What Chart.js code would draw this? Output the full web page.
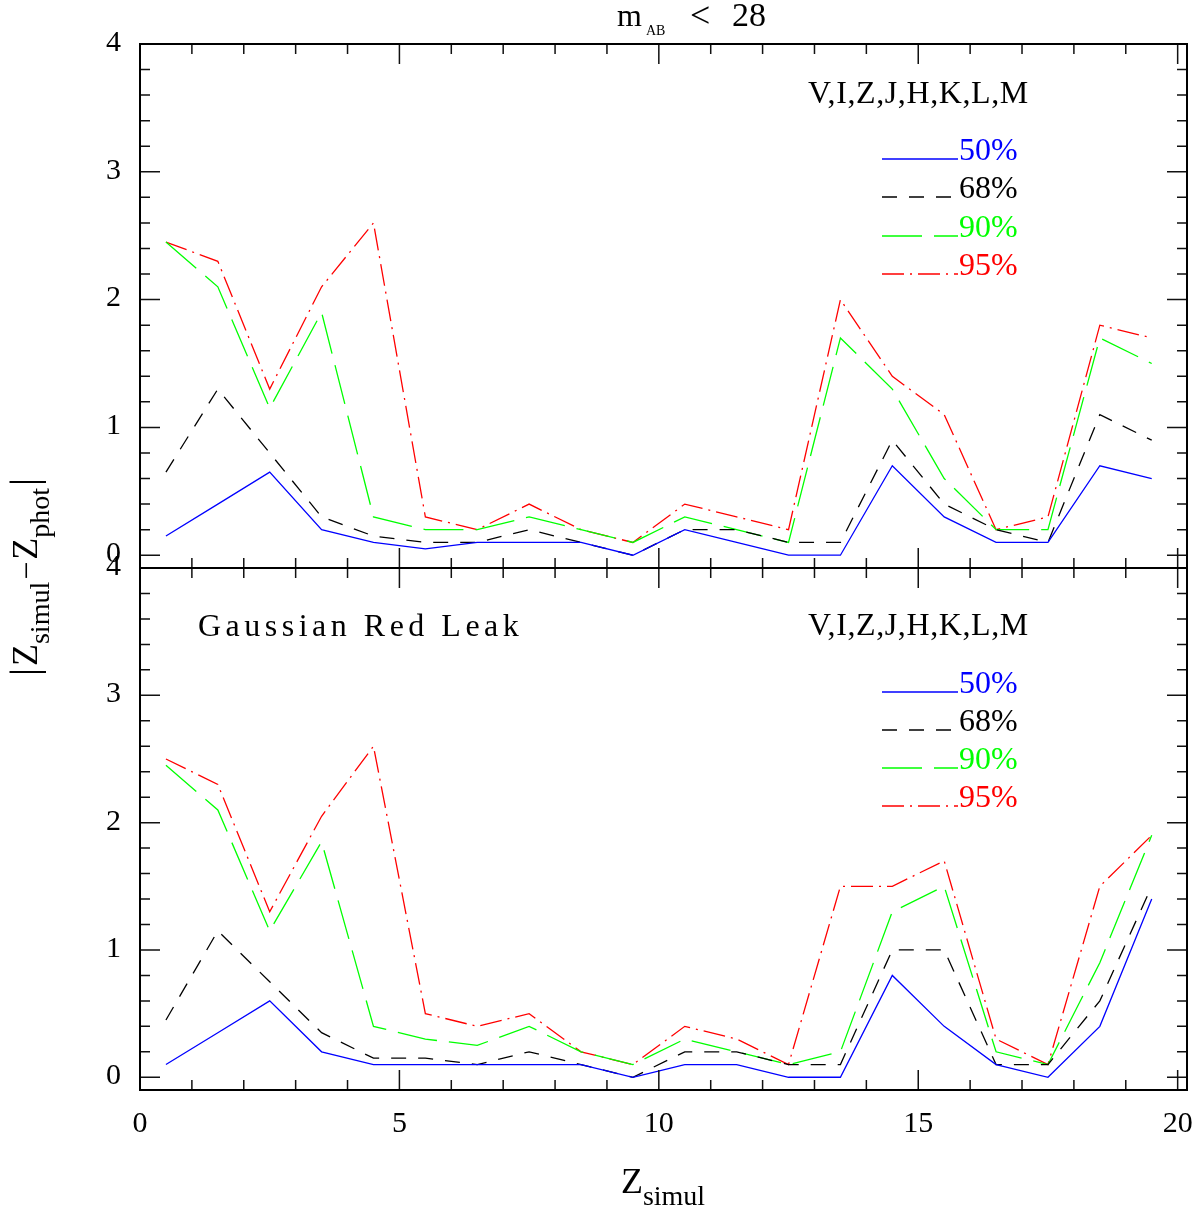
<!DOCTYPE html>
<html>
<head>
<meta charset="utf-8">
<script src="https://cdn.jsdelivr.net/npm/chart.js@4/dist/chart.umd.min.js"></script>
<style>
  html, body { margin: 0; background: #fff; }
  #wrap { position: relative; width: 1204px; height: 1214px; }
  #wrap canvas { position: absolute; left: 0; top: 0; }
</style>
</head>
<body>
<div id="wrap">
  <canvas id="topPanel" width="1204" height="1214"></canvas>
  <canvas id="botPanel" width="1204" height="1214"></canvas>
</div>
<script>
// x positions (bin centres of Z_simul)
const zSimul = [0.5, 1.5, 2.5, 3.5, 4.5, 5.5, 6.5, 7.5, 8.5, 9.5,
                10.5, 11.5, 12.5, 13.5, 14.5, 15.5, 16.5, 17.5, 18.5, 19.5];

// upper panel : m_AB < 28
const top50 = [0.15, 0.4, 0.65, 0.2, 0.1, 0.05, 0.1, 0.1, 0.1, 0.0, 0.2, 0.1, 0.0, 0.0, 0.7, 0.3, 0.1, 0.1, 0.7, 0.6];
const top68 = [0.65, 1.3, 0.8, 0.3, 0.15, 0.1, 0.1, 0.2, 0.1, 0.0, 0.2, 0.2, 0.1, 0.1, 0.9, 0.4, 0.2, 0.1, 1.1, 0.9];
const top90 = [2.45, 2.1, 1.15, 1.9, 0.3, 0.2, 0.2, 0.3, 0.2, 0.1, 0.3, 0.2, 0.1, 1.7, 1.3, 0.6, 0.2, 0.2, 1.7, 1.5];
const top95 = [2.45, 2.3, 1.3, 2.1, 2.6, 0.3, 0.2, 0.4, 0.2, 0.1, 0.4, 0.3, 0.2, 2.0, 1.4, 1.1, 0.2, 0.3, 1.8, 1.7];

// lower panel : Gaussian red leak
const bot50 = [0.1, 0.35, 0.6, 0.2, 0.1, 0.1, 0.1, 0.1, 0.1, 0.0, 0.1, 0.1, 0.0, 0.0, 0.8, 0.4, 0.1, 0.0, 0.4, 1.4];
const bot68 = [0.45, 1.15, 0.75, 0.35, 0.15, 0.15, 0.1, 0.2, 0.1, 0.0, 0.2, 0.2, 0.1, 0.1, 1.0, 1.0, 0.1, 0.1, 0.6, 1.5];
const bot90 = [2.45, 2.1, 1.15, 1.85, 0.4, 0.3, 0.25, 0.4, 0.2, 0.1, 0.3, 0.2, 0.1, 0.2, 1.3, 1.5, 0.2, 0.1, 0.9, 1.9];
const bot95 = [2.5, 2.3, 1.3, 2.05, 2.6, 0.5, 0.4, 0.5, 0.2, 0.1, 0.4, 0.3, 0.1, 1.5, 1.5, 1.7, 0.3, 0.1, 1.5, 1.9];

const levels = ["50%", "68%", "90%", "95%"];
const bands = "V,I,Z,J,H,K,L,M";
const xTickLabels = [0, 5, 10, 15, 20];
const yTickLabels = [0, 1, 2, 3, 4];

const colors = ["#0000ff", "#000000", "#00ff00", "#ff0000"];
const dashes = [[], [15, 12], [40, 12], [22, 6, 2, 6]];
const SERIF = '"Liberation Serif", "DejaVu Serif", serif';

function drawParts(ctx, parts, x, y, align) {
  let total = 0;
  parts.forEach(p => {
    ctx.font = p.size + "px " + SERIF;
    p.w = ctx.measureText(p.t).width + (p.gap || 0);
    total += p.w;
  });
  let cx = align === "center" ? x - total / 2 : x;
  ctx.textAlign = "left";
  ctx.textBaseline = "alphabetic";
  parts.forEach(p => {
    ctx.font = p.size + "px " + SERIF;
    ctx.fillText(p.t, cx, y + (p.dy || 0));
    cx += p.w;
  });
}

function makePanelPlugin(cfg) {
  return {
    id: "panel_" + cfg.name,
    afterDraw(chart) {
      const { ctx, chartArea: a } = chart;
      const xs = chart.scales.x, ys = chart.scales.y;
      ctx.save();

      // inward ticks on all four sides
      ctx.strokeStyle = "#111";
      ctx.lineWidth = 1.5;
      ctx.beginPath();
      for (let v = 0; v <= 20; v++) {
        const px = xs.getPixelForValue(v);
        const len = xTickLabels.includes(v) ? 20 : 10;
        ctx.moveTo(px, a.top); ctx.lineTo(px, a.top + len);
        ctx.moveTo(px, a.bottom); ctx.lineTo(px, a.bottom - len);
      }
      for (let i = 0; i <= 20; i++) {
        const py = ys.getPixelForValue(i / 5);
        const len = i % 5 === 0 ? 20 : 10;
        ctx.moveTo(a.left, py); ctx.lineTo(a.left + len, py);
        ctx.moveTo(a.right, py); ctx.lineTo(a.right - len, py);
      }
      ctx.stroke();

      ctx.strokeStyle = "#000";
      ctx.lineWidth = 2;
      ctx.strokeRect(a.left, a.top, a.right - a.left, a.bottom - a.top);

      // y tick labels
      ctx.fillStyle = "#000";
      ctx.font = "30px " + SERIF;
      ctx.textAlign = "right";
      ctx.textBaseline = "middle";
      yTickLabels.forEach(v => ctx.fillText(String(v), a.left - 19, ys.getPixelForValue(v) - 1));

      // x tick labels + axis title
      if (cfg.xLabels) {
        ctx.textAlign = "center";
        ctx.textBaseline = "alphabetic";
        xTickLabels.forEach(v => ctx.fillText(String(v), xs.getPixelForValue(v), a.bottom + 42));
        drawParts(ctx, [{ t: "Z", size: 36 }, { t: "simul", size: 28, dy: 12 }], 663, 1193, "center");
      }

      // panel text
      ctx.fillStyle = "#000";
      ctx.font = "32px " + SERIF;
      ctx.textAlign = "left";
      ctx.textBaseline = "alphabetic";
      if ("letterSpacing" in ctx) ctx.letterSpacing = "0.6px";
      ctx.fillText(bands, 808, cfg.bandsY);
      if (cfg.note) {
        if ("letterSpacing" in ctx) ctx.letterSpacing = "4.5px";
        ctx.fillText(cfg.note, 198, cfg.noteY);
      }
      if ("letterSpacing" in ctx) ctx.letterSpacing = "0px";

      // legend
      chart.data.datasets.forEach((ds, i) => {
        const ly = cfg.legendY[i];
        ctx.strokeStyle = ds.borderColor;
        ctx.lineWidth = 1.3;
        ctx.setLineDash(ds.borderDash || []);
        ctx.beginPath();
        ctx.moveTo(882, ly);
        ctx.lineTo(958, ly);
        ctx.stroke();
        ctx.setLineDash([]);
        ctx.fillStyle = ds.borderColor;
        ctx.font = "32px " + SERIF;
        ctx.fillText(ds.label, 959, ly + 1);
      });

      if (cfg.title) {
        ctx.fillStyle = "#000";
        drawParts(ctx, [{ t: "m", size: 32 }], 617, 26, "left");
        drawParts(ctx, [{ t: "AB", size: 14 }], 646, 35, "left");
        drawParts(ctx, [{ t: "<", size: 36 }], 690, 27, "left");
        drawParts(ctx, [{ t: "28", size: 34 }], 732, 26, "left");

        // y axis title, rotated
        ctx.save();
        ctx.translate(37, 577);
        ctx.rotate(-Math.PI / 2);
        drawParts(ctx, [
          { t: "|", size: 40, gap: 2 },
          { t: "Z", size: 36 },
          { t: "simul", size: 28, dy: 12, gap: 2 },
          { t: "\u2212", size: 32, gap: 2 },
          { t: "Z", size: 36 },
          { t: "phot", size: 28, dy: 12, gap: 2 },
          { t: "|", size: 40 }
        ], 0, 0, "center");
        ctx.restore();
      }
      ctx.restore();
    }
  };
}

function panelChart(canvasId, series, padding, cfg) {
  return new Chart(document.getElementById(canvasId).getContext("2d"), {
    type: "line",
    data: {
      datasets: series.map((s, i) => ({
        label: levels[i],
        data: zSimul.map((x, j) => ({ x: x, y: s[j] })),
        borderColor: colors[i],
        borderDash: dashes[i],
        borderWidth: 1.3,
        pointRadius: 0,
        tension: 0,
        fill: false
      }))
    },
    options: {
      responsive: false,
      animation: false,
      devicePixelRatio: 1,
      layout: { padding: padding },
      plugins: { legend: { display: false }, tooltip: { enabled: false } },
      scales: {
        x: { type: "linear", min: 0, max: 20.18, display: false },
        y: { type: "linear", min: -0.1, max: 4, display: false }
      }
    },
    plugins: [makePanelPlugin(cfg)]
  });
}

panelChart("topPanel", [top50, top68, top90, top95],
  { left: 140, right: 17, top: 44, bottom: 1214 - 568 },
  { name: "top", title: true, xLabels: false, bandsY: 103, legendY: [159, 197, 236, 274] });

panelChart("botPanel", [bot50, bot68, bot90, bot95],
  { left: 140, right: 17, top: 568, bottom: 1214 - 1090 },
  { name: "bot", title: false, xLabels: true, bandsY: 635, note: "Gaussian Red Leak", noteY: 636,
    legendY: [692, 730, 768, 806] });
</script>
</body>
</html>
